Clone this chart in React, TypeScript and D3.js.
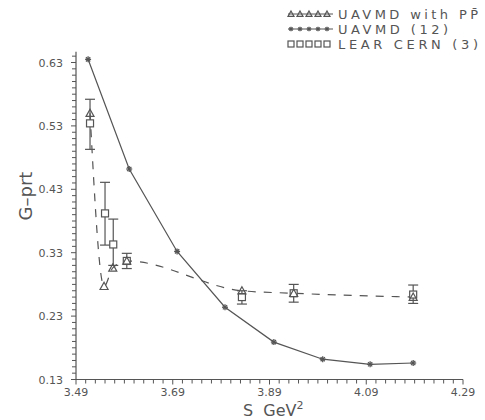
import React, { useEffect, useRef } from 'react';
import * as d3 from 'd3';

// UAVMD (12) - solid line with stars
const uavmdS = [3.515, 3.6, 3.699, 3.798, 3.899, 4.0, 4.098, 4.187];
const uavmdG = [0.635, 0.462, 0.332, 0.244, 0.189, 0.162, 0.154, 0.156];

// UAVMD with PPbar - dashed line with triangles
const ppS = [3.519, 3.548, 3.566, 3.595, 3.833, 3.94, 4.187];
const ppG = [0.55, 0.277, 0.306, 0.317, 0.27, 0.266, 0.26];

// LEAR CERN (3) - squares with error bars
const learS = [3.519, 3.55, 3.567, 3.595, 3.833, 3.94, 4.187];
const learG = [0.534, 0.392, 0.343, 0.317, 0.26, 0.266, 0.264];
const learHi = [0.572, 0.441, 0.383, 0.329, 0.27, 0.28, 0.279];
const learLo = [0.493, 0.342, 0.31, 0.305, 0.249, 0.252, 0.25];

const xTicks = [3.49, 3.69, 3.89, 4.09, 4.29];
const yTicks = [0.13, 0.23, 0.33, 0.43, 0.53, 0.63];

const legendLabels = ['UAVMD with PP\u0304', 'UAVMD (12)', 'LEAR CERN (3)'];

const ink = '#555';

export default function App() {
	const ref = useRef<SVGSVGElement>(null);

	useEffect(() => {
		const svg = d3.select(ref.current);
		svg.selectAll('*').remove();

		const x = d3.scaleLinear().domain([3.49, 4.29]).range([76, 463]);
		const y = d3.scaleLinear().domain([0.13, 0.63]).range([379.5, 62.5]);

		const g = svg.append('g');

		// axes lines
		g.append('line').attr('x1', 76).attr('x2', x(4.29)).attr('y1', y(0.13)).attr('y2', y(0.13))
			.attr('stroke', ink).attr('stroke-width', 1.2);
		g.append('line').attr('x1', 76).attr('x2', 76).attr('y1', y(0.13)).attr('y2', y(0.647))
			.attr('stroke', ink).attr('stroke-width', 1.2);

		// minor / major ticks
		const xMinor = d3.range(0, 41).map(i => 3.49 + i * 0.02);
		g.selectAll('.xt').data(xMinor).enter().append('line')
			.attr('x1', d => x(d)).attr('x2', d => x(d))
			.attr('y1', y(0.13)).attr('y2', (d, i) => y(0.13) + (i % 10 === 0 ? 5 : 4))
			.attr('stroke', ink).attr('stroke-width', 1);
		const yMinor = d3.range(0, 52).map(i => 0.13 + i * 0.01);
		g.selectAll('.yt').data(yMinor).enter().append('line')
			.attr('x1', 76).attr('x2', (d, i) => 76 - (i % 10 === 0 ? 5 : 4))
			.attr('y1', d => y(d)).attr('y2', d => y(d))
			.attr('stroke', ink).attr('stroke-width', 1);

		const font = '"DejaVu Sans", sans-serif';
		g.selectAll('.xl').data(xTicks).enter().append('text')
			.text(d => d.toFixed(2))
			.attr('x', d => x(d)).attr('y', 396)
			.attr('text-anchor', 'middle').attr('font-size', 11).attr('font-family', font).attr('fill', ink);
		g.selectAll('.yl').data(yTicks).enter().append('text')
			.text(d => d.toFixed(2))
			.attr('x', 63).attr('y', d => y(d) + 4)
			.attr('text-anchor', 'end').attr('font-size', 11).attr('font-family', font).attr('fill', ink);

		// axis titles
		g.append('text').text('G\u2013prt')
			.attr('transform', `translate(32,196) rotate(-90)`)
			.attr('text-anchor', 'middle').attr('font-size', 18).attr('font-family', font).attr('fill', ink);
		const xt = g.append('text').attr('x', 243).attr('y', 416)
			.attr('font-size', 16).attr('font-family', font).attr('fill', ink);
		xt.append('tspan').text('S  GeV').attr('style', 'white-space:pre');
		xt.append('tspan').text('2').attr('font-size', 11).attr('dy', -7);

		// solid line
		const line = d3.line<number>().x((d, i) => x(uavmdS[i])).y(d => y(d));
		g.append('path').attr('d', line(uavmdG)).attr('fill', 'none').attr('stroke', ink).attr('stroke-width', 1.2);

		// dashed line
		const dline = d3.line<number>().x((d, i) => x(ppS[i])).y(d => y(d)).curve(d3.curveMonotoneX);
		g.append('path').attr('d', dline(ppG)).attr('fill', 'none').attr('stroke', ink)
			.attr('stroke-width', 1.2).attr('stroke-dasharray', '8,8');

		const star = (sel: any, cx: number, cy: number, r: number) => {
			for (let k = 0; k < 4; k++) {
				const a = (k * Math.PI) / 4;
				sel.append('line')
					.attr('x1', cx - r * Math.cos(a)).attr('y1', cy - r * Math.sin(a))
					.attr('x2', cx + r * Math.cos(a)).attr('y2', cy + r * Math.sin(a))
					.attr('stroke', ink).attr('stroke-width', 1.3);
			}
		};
		const tri = (sel: any, cx: number, cy: number, r: number) => {
			sel.append('path')
				.attr('d', `M${cx},${cy - r}L${cx + r},${cy + r * 0.8}L${cx - r},${cy + r * 0.8}Z`)
				.attr('fill', 'none').attr('stroke', ink).attr('stroke-width', 1.2);
		};
		const sq = (sel: any, cx: number, cy: number, r: number) => {
			sel.append('rect').attr('x', cx - r).attr('y', cy - r).attr('width', 2 * r).attr('height', 2 * r)
				.attr('fill', 'white').attr('stroke', ink).attr('stroke-width', 1.2);
		};

		// error bars + squares
		learS.forEach((s, i) => {
			const cx = x(s);
			g.append('line').attr('x1', cx).attr('x2', cx).attr('y1', y(learHi[i])).attr('y2', y(learLo[i]))
				.attr('stroke', ink).attr('stroke-width', 1.2);
			[learHi[i], learLo[i]].forEach(v => {
				g.append('line').attr('x1', cx - 5).attr('x2', cx + 5).attr('y1', y(v)).attr('y2', y(v))
					.attr('stroke', ink).attr('stroke-width', 1.2);
			});
			sq(g, cx, y(learG[i]), 3.5);
		});

		ppS.forEach((s, i) => tri(g, x(s), y(ppG[i]), 4));
		uavmdS.forEach((s, i) => star(g, x(s), y(uavmdG[i]), 3));

		// legend
		const lg = svg.append('g');
		const rows = [14, 29, 44];
		const sx = d3.range(5).map(k => 291 + k * 9);
		const lengths = [140, 110, 140];
		rows.forEach((ry, r) => {
			if (r < 2) {
				lg.append('line').attr('x1', 288).attr('x2', 333).attr('y1', ry).attr('y2', ry)
					.attr('stroke', ink).attr('stroke-width', 1);
			}
			sx.forEach(px => {
				if (r === 0) tri(lg, px, ry, 3);
				else if (r === 1) star(lg, px, ry, 2.3);
				else sq(lg, px, ry, 3);
			});
			lg.append('text').text(legendLabels[r])
				.attr('x', 338).attr('y', ry + 5)
				.attr('textLength', lengths[r]).attr('lengthAdjust', 'spacing')
				.attr('font-size', 13).attr('font-family', font).attr('fill', ink);
		});
	}, []);

	return (
		<svg ref={ref} width={485} height={420}
			style={{ position: 'absolute', left: 0, top: 0, background: 'white' }} />
	);
}
